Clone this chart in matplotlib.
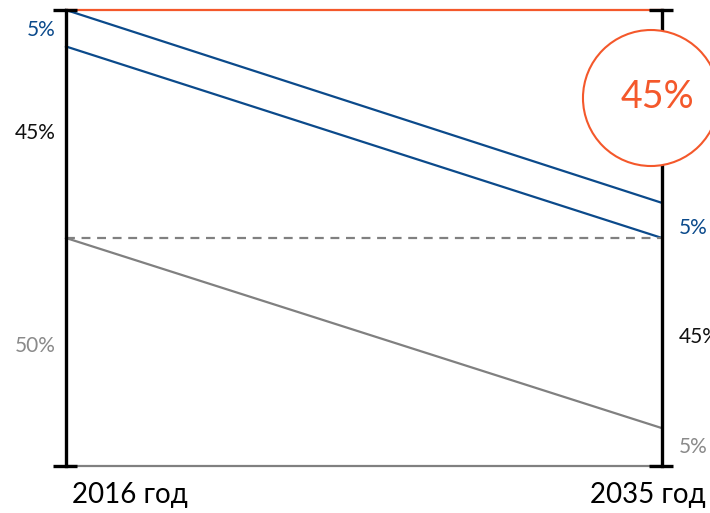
import matplotlib.pyplot as plt
from matplotlib.patches import Ellipse

plt.rcParams['font.family'] = ['Lato', 'DejaVu Sans']

# позиции лет по оси x
years = ["2016 год", "2035 год"]
x = [0, 1]
# границы долей (в процентах высоты столбца)
top_orange = [100, 100]
blue_upper = [100, 57.7]
blue_lower = [92, 50]
gray_dash = [50, 50]
gray_line = [50, 8.3]
bottom = [0, 0]

# подписи слева и справа: (значение, текст, цвет)
left_labels = [(95.6, "5%", "#0b4a8b"), (73.0, "45%", "#111111"), (26.3, "50%", "#8a8a8a")]
right_labels = [(52.2, "5%", "#0b4a8b"), (28.3, "45%", "#111111"), (4.2, "5%", "#8a8a8a")]
circle_value = "45%"

orange = "#f4582b"
blue = "#0b4a8b"
gray = "#808080"

fig = plt.figure(figsize=(7.10, 5.13), dpi=100)
ax = fig.add_axes([66 / 710, 47 / 513, 596 / 710, 456 / 513])
ax.set_xlim(0, 1)
ax.set_ylim(0, 100)
ax.axis("off")

ax.plot(x, top_orange, color=orange, lw=1.6, clip_on=False)
ax.plot(x, blue_upper, color=blue, lw=1.6, clip_on=False)
ax.plot(x, blue_lower, color=blue, lw=1.6, clip_on=False)
ax.plot(x, gray_dash, color=gray, lw=1.6, ls=(0, (4, 3)), clip_on=False)
ax.plot(x, gray_line, color=gray, lw=1.6, clip_on=False)
ax.plot(x, bottom, color=gray, lw=1.6, clip_on=False)

# вертикальные оси с засечками
for xi in x:
    ax.plot([xi, xi], [0, 100], color="black", lw=2.4, clip_on=False, zorder=3)
    for yi in [0, 100]:
        ax.plot([xi - 0.022, xi + 0.019], [yi, yi], color="black", lw=2.4,
                clip_on=False, zorder=3, solid_capstyle="butt")

for v, t, c in left_labels:
    ax.text(-0.018, v, t, color=c, fontsize=15, ha="right", va="center")
for v, t, c in right_labels:
    ax.text(1.028, v, t, color=c, fontsize=15, ha="left", va="center")

ax.text(0.107, -6.3, years[0], fontsize=20, ha="center", va="center")
ax.text(0.977, -6.3, years[1], fontsize=20, ha="center", va="center")

circ = Ellipse((0.9815, 80.7), 136 / 596, 136 / 456 * 100, facecolor="white",
               edgecolor=orange, lw=1.5, zorder=4, clip_on=False)
ax.add_patch(circ)
ax.text(0.9916, 80.9, circle_value, color=orange, fontsize=27, ha="center",
        va="center", zorder=5)

fig.savefig("out.png", dpi=100)
